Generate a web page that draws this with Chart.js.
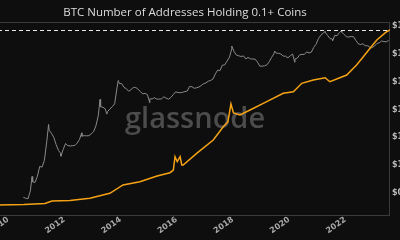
<!DOCTYPE html>
<html lang="en">
<head>
<meta charset="UTF-8">
<title>BTC Number of Addresses Holding 0.1+ Coins</title>
<script src="https://cdn.jsdelivr.net/npm/chart.js"></script>
<style>
    html, body {
        margin: 0;
        padding: 0;
        background: #0e0e0e;
    }
    .frame {
        position: relative;
        width: 400px;
        height: 240px;
        overflow: hidden;
        background: #0e0e0e;
    }
    .wrap {
        position: absolute;
        left: -60px;
        top: 0;
        width: 490px;
        height: 240px;
    }
</style>
</head>
<body>

<div class="frame">
    <div class="wrap"><canvas id="chart"></canvas></div>
</div>

<script>
// addresses holding >= 0.1 BTC (thousands)
const addrYears = [2009.64, 2010.56, 2011.31, 2011.56, 2012.20, 2012.91, 2013.62, 2014.09, 2014.69, 2015.30,
    2015.76, 2015.88, 2015.94, 2016.02, 2016.12, 2016.18, 2016.23, 2016.71, 2017.30, 2017.65,
    2017.82, 2017.93, 2018.02, 2018.25, 2018.61, 2019.08, 2019.79, 2020.15, 2020.45, 2020.86,
    2021.28, 2021.45, 2022.05, 2022.40, 2022.64, 2022.88, 2023.12, 2023.47, 2023.59];
const addrValues = [244, 256, 280, 341, 353, 407, 528, 731, 811, 950,
    1030, 1096, 1420, 1298, 1420, 1218, 1218, 1502, 1826, 2143,
    2265, 2703, 2484, 2435, 2557, 2720, 2963, 3002, 3207, 3287,
    3343, 3246, 3409, 3653, 3855, 4059, 4261, 4463, 4505];

// BTC price (USD), monthly from July 2010
const priceStart = [2010, 7];
const priceMonthly = [
    0.07, 0.065, 0.062, 0.12, 0.25, 0.24,
    0.4, 0.9, 0.85, 1.5, 7, 18, 14, 10, 5.5, 3.4, 2.6, 3.6,
    6, 5, 4.9, 5, 5.1, 6.2, 8.5, 11, 11.5, 11.3, 11.5, 13.3,
    16, 26, 60, 125, 120, 105, 85, 105, 126, 160, 600, 850,
    850, 620, 560, 450, 520, 620, 620, 530, 440, 360, 380, 340,
    240, 240, 265, 235, 237, 240, 285, 255, 235, 270, 340, 430,
    410, 400, 415, 440, 460, 670, 660, 575, 605, 640, 730, 850,
    900, 1050, 1100, 1250, 1900, 2600, 2500, 3900, 4000, 5500, 7500, 15000,
    12000, 9000, 8500, 8000, 8400, 6600, 7400, 6600, 6500, 6400, 5000, 3600,
    3600, 3700, 4000, 5200, 7400, 10000, 10500, 10500, 9800, 8300, 8200, 7200,
    8500, 9800, 6500, 7000, 9200, 9500, 9500, 11700, 10700, 11500, 17000, 22000,
    35000, 46000, 55000, 58000, 45000, 35000, 34000, 46000, 45000, 58000, 60000, 49000,
    41000, 40000, 42000, 41000, 30500, 23000, 21500, 23000, 19500, 19500, 17500, 16800,
    19000, 23500, 25000, 29000, 27500, 27000, 30300
];
// extra highs and lows between month points
const priceExtraYears = [2010.85, 2011.44, 2011.88, 2012.62, 2013.27, 2013.51, 2013.92, 2015.04,
    2017.96, 2019.49, 2020.20, 2021.28, 2021.55, 2021.86, 2022.89];
const priceExtraValues = [0.39, 29, 2.1, 14.5, 230, 68, 1100, 175,
    19000, 12500, 5000, 63000, 30000, 67500, 15800];

const yearTicks = [2010, 2012, 2014, 2016, 2018, 2020, 2022];
const priceTicks = [0.1, 1, 10, 100, 1000, 10000, 100000];
const priceTickLabels = ['$0.1', '$1', '$10', '$100', '$1k', '$10k', '$100k'];
const titleText = 'BTC Number of Addresses Holding 0.1+ Coins';

const addrData = addrYears.map((x, i) => ({x: x, y: addrValues[i]}));
const priceData = priceMonthly.map((v, i) => ({
    x: priceStart[0] + (priceStart[1] - 1 + i + 0.5) / 12,
    y: v
}));
priceExtraYears.forEach((x, i) => priceData.push({x: x, y: priceExtraValues[i]}));
priceData.sort((a, b) => a.x - b.x);

const framePlugin = {
    id: 'frame',
    beforeDatasetsDraw(chart) {
        const {ctx, chartArea: a} = chart;
        ctx.save();
        // title, centred over the full (uncropped) chart
        ctx.fillStyle = '#dddddd';
        ctx.font = '11.5px "Open Sans"';
        ctx.textAlign = 'center';
        ctx.textBaseline = 'middle';
        ctx.fillText(titleText, chart.width / 2, 13);
        // watermark
        ctx.fillStyle = '#4c4c4c';
        ctx.font = '600 30px "Open Sans"';
        const w = ctx.measureText('glassnode').width;
        ctx.font = '600 ' + (30 * 140 / w).toFixed(1) + 'px "Open Sans"';
        ctx.textBaseline = 'alphabetic';
        ctx.textAlign = 'left';
        ctx.fillText('glassnode', 185, 128);
        // border
        ctx.strokeStyle = '#3a3a3a';
        ctx.lineWidth = 1;
        ctx.strokeRect(a.left + 0.5, a.top + 0.5, a.right - a.left - 1, a.bottom - a.top);
        ctx.restore();
    },
    afterDatasetsDraw(chart) {
        const {ctx, chartArea: a} = chart;
        const y = Math.round(chart.scales.y.getPixelForValue(Math.max(...addrValues))) + 0.5;
        ctx.save();
        ctx.strokeStyle = '#e8e8e8';
        ctx.lineWidth = 1;
        ctx.setLineDash([4, 3]);
        ctx.beginPath();
        ctx.moveTo(a.left, y);
        ctx.lineTo(a.right, y);
        ctx.stroke();
        ctx.restore();
    }
};

new Chart(document.getElementById('chart'), {
    type: 'line',
    data: {
        datasets: [{
            label: 'Addresses >= 0.1',
            data: addrData,
            yAxisID: 'y',
            borderColor: '#f5a315',
            borderWidth: 1.5,
            pointRadius: 0,
            tension: 0
        }, {
            label: 'Price',
            data: priceData,
            yAxisID: 'y1',
            borderColor: '#8a8a8a',
            borderWidth: 1,
            pointRadius: 0,
            tension: 0
        }]
    },
    options: {
        responsive: true,
        maintainAspectRatio: false,
        animation: false,
        devicePixelRatio: 1,
        layout: {padding: {left: 58, top: 22, right: 0, bottom: 0}},
        plugins: {
            legend: {display: false},
            tooltip: {enabled: false},
            title: {display: false}
        },
        scales: {
            x: {
                type: 'linear',
                min: 2009.64,
                max: 2023.59,
                grid: {display: false, drawTicks: false},
                border: {display: false},
                afterBuildTicks(s) { s.ticks = yearTicks.map(v => ({value: v})); },
                afterFit(s) { s.height = 25; },
                ticks: {
                    color: '#a8a8a8',
                    font: {family: 'DejaVu Sans', size: 8, weight: 'bold'},
                    minRotation: 35,
                    maxRotation: 35,
                    padding: 0,
                    callback: v => String(v)
                }
            },
            y: {
                type: 'linear',
                display: false,
                position: 'left',
                min: 0,
                max: 4700
            },
            y1: {
                type: 'logarithmic',
                position: 'right',
                min: 0.0162,
                max: 139000,
                grid: {display: false, drawTicks: false},
                border: {display: false},
                afterBuildTicks(s) { s.ticks = priceTicks.map(v => ({value: v})); },
                afterFit(s) { s.width = 40; },
                ticks: {
                    color: '#bbbbbb',
                    font: {family: 'DejaVu Sans', size: 8, weight: 'bold'},
                    padding: 2,
                    callback: v => priceTickLabels[priceTicks.indexOf(v)]
                }
            }
        }
    },
    plugins: [framePlugin]
});
</script>

</body>
</html>
